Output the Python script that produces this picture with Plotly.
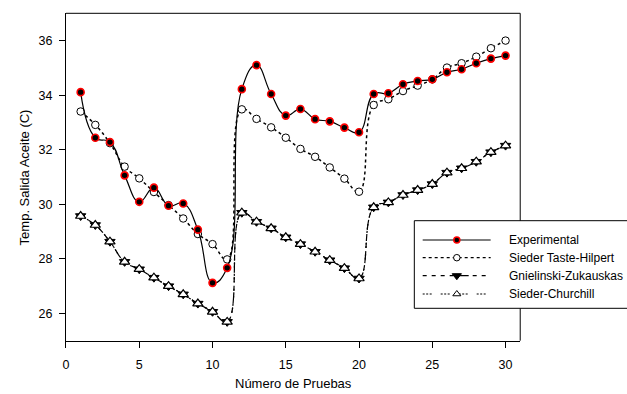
import plotly.graph_objects as go

W, H = 627, 394

pruebas = list(range(1, 31))
experimental = [34.11, 32.44, 32.28, 31.06, 30.09, 30.61, 29.95, 30.03, 29.07, 27.12,
                27.67, 34.22, 35.10, 34.04, 33.25, 33.49, 33.12, 33.04, 32.81, 32.64,
                34.04, 34.07, 34.40, 34.52, 34.58, 34.84, 34.95, 35.17, 35.34, 35.45]
taste_hilpert = [33.40, 32.91, 32.24, 31.38, 30.95, 30.45, 29.97, 29.48, 28.91, 28.54,
                 27.98, 33.48, 33.13, 32.82, 32.44, 32.03, 31.74, 31.35, 30.94, 30.46,
                 33.64, 33.85, 34.15, 34.35, 34.58, 35.01, 35.17, 35.41, 35.72, 36.00]
gnielinski = [29.57, 29.24, 28.63, 27.89, 27.62, 27.31, 27.00, 26.70, 26.36, 26.06,
              25.69, 29.69, 29.36, 29.12, 28.79, 28.54, 28.26, 27.95, 27.66, 27.28,
              29.89, 30.07, 30.34, 30.52, 30.74, 31.16, 31.32, 31.56, 31.91, 32.15]
churchill = [29.57, 29.24, 28.63, 27.89, 27.62, 27.31, 27.00, 26.70, 26.36, 26.06,
             25.69, 29.69, 29.36, 29.12, 28.79, 28.54, 28.26, 27.95, 27.66, 27.28,
             29.89, 30.07, 30.34, 30.52, 30.74, 31.16, 31.32, 31.56, 31.91, 32.15]

series_names = ["Experimental", "Sieder Taste-Hilpert", "Gnielinski-Zukauskas", "Sieder-Churchill"]
x_ticks = [0, 5, 10, 15, 20, 25, 30]
y_ticks = [26, 28, 30, 32, 34, 36]

FONT = "Liberation Sans, Arial, sans-serif"

# plot-area pixel box
PL, PR, PT, PB = 63.3, 519.7, 13.3, 340.7

def px(xp):
    return xp / W

def py(yp):
    return 1 - yp / H

dash_gz = "5px,4px,5px,4px,10px,3px"
dash_sc = "2px,1.5px,2px,1.5px,2px,6px"

fig = go.Figure()

fig.add_trace(go.Scatter(
    x=pruebas, y=gnielinski, mode="lines+markers", name=series_names[2],
    line=dict(color="black", width=1.2, shape="spline", smoothing=1.3, dash=dash_gz),
    marker=dict(symbol="triangle-down", size=9, color="black", line=dict(color="black", width=1)),
    showlegend=False))
fig.add_trace(go.Scatter(
    x=pruebas, y=churchill, mode="lines+markers", name=series_names[3],
    line=dict(color="black", width=1.2, shape="spline", smoothing=1.3, dash=dash_sc),
    marker=dict(symbol="triangle-up", size=9, color="white", line=dict(color="black", width=1.2)),
    showlegend=False))
fig.add_trace(go.Scatter(
    x=pruebas, y=taste_hilpert, mode="lines+markers", name=series_names[1],
    line=dict(color="black", width=1.5, shape="spline", smoothing=1.3, dash="dot"),
    marker=dict(symbol="circle", size=7.5, color="white", line=dict(color="black", width=1)),
    showlegend=False))
fig.add_trace(go.Scatter(
    x=pruebas, y=experimental, mode="lines+markers", name=series_names[0],
    line=dict(color="black", width=1.2, shape="spline", smoothing=1.3),
    marker=dict(symbol="circle", size=7, color="black", line=dict(color="red", width=1.6)),
    showlegend=False))

# ---- custom legend (pixel overlay axes x2/y2) ----
leg_rows = [240, 257.7, 275.7, 294]
lx0, lx1, lmk, ltxt = 421.7, 490, 456, 506.7
leg_styles = [
    dict(line=dict(color="black", width=1.2),
         marker=dict(symbol="circle", size=6, color="black", line=dict(color="red", width=1.5))),
    dict(line=dict(color="black", width=1.2, dash="dot"),
         marker=dict(symbol="circle", size=6.5, color="white", line=dict(color="black", width=1))),
    dict(line=dict(color="black", width=1.2, dash="4px,5px,4px,5px,4px,5px,4px,5px,10px,4px"),
         marker=dict(symbol="triangle-down", size=8, color="black", line=dict(color="black", width=1))),
    dict(line=dict(color="black", width=1.2, dash="2px,1.5px,2px,1.5px,2px,9px"),
         marker=dict(symbol="triangle-up", size=7, color="white", line=dict(color="black", width=1))),
]
for yr, st in zip(leg_rows, leg_styles):
    fig.add_trace(go.Scatter(x=[lx0, lx1], y=[yr, yr], mode="lines", line=st["line"],
                             xaxis="x2", yaxis="y2", showlegend=False, hoverinfo="skip"))
    fig.add_trace(go.Scatter(x=[lmk], y=[yr], mode="markers", marker=st["marker"],
                             xaxis="x2", yaxis="y2", showlegend=False, hoverinfo="skip"))

annotations = []
for yr, name in zip(leg_rows, series_names):
    annotations.append(dict(x=px(ltxt), y=py(yr), xref="paper", yref="paper", text=name,
                            showarrow=False, xanchor="left", yanchor="middle",
                            font=dict(family=FONT, size=12, color="black")))
annotations.append(dict(x=px((PL + PR) / 2), y=py(383), xref="paper", yref="paper",
                        text="Número de Pruebas", showarrow=False, xanchor="center", yanchor="middle",
                        font=dict(family=FONT, size=13, color="black")))
annotations.append(dict(x=px(21.5), y=py((PT + PB) / 2), xref="paper", yref="paper",
                        text="Temp. Salida Aceite (C)", showarrow=False, textangle=-90,
                        xanchor="center", yanchor="middle",
                        font=dict(family=FONT, size=13, color="black")))

shapes = [
    # legend box
    dict(type="rect", xref="paper", yref="paper", x0=px(413.3), x1=px(632), y0=py(308.3), y1=py(220.7),
         line=dict(color="black", width=1), fillcolor="white", layer="below"),
    # top frame
    dict(type="line", xref="paper", yref="paper", x0=px(PL), x1=px(PR), y0=py(PT), y1=py(PT),
         line=dict(color="black", width=1)),
    # right frame, split around the legend
    dict(type="line", xref="paper", yref="paper", x0=px(PR), x1=px(PR), y0=py(PT), y1=py(220.7),
         line=dict(color="black", width=1)),
    dict(type="line", xref="paper", yref="paper", x0=px(PR), x1=px(PR), y0=py(308.3), y1=py(PB),
         line=dict(color="black", width=1)),
]

fig.update_layout(
    width=W, height=H, margin=dict(l=0, r=0, t=0, b=0),
    paper_bgcolor="white", plot_bgcolor="rgba(0,0,0,0)",
    font=dict(family=FONT, size=12, color="black"),
    showlegend=False,
    annotations=annotations, shapes=shapes,
    xaxis=dict(domain=[px(PL), px(PR)], range=[0, 31], tickvals=x_ticks, ticks="outside",
               ticklen=6, tickwidth=1, tickcolor="black", showline=True, linecolor="black",
               linewidth=1, showgrid=False, zeroline=False, mirror=False,
               tickfont=dict(family=FONT, size=12.5, color="black"), ticklabelstandoff=6),
    yaxis=dict(domain=[py(PB), py(PT)], range=[25, 37], tickvals=y_ticks, ticks="outside",
               ticklen=6, tickwidth=1, tickcolor="black", showline=True, linecolor="black",
               linewidth=1, showgrid=False, zeroline=False, mirror=False,
               tickfont=dict(family=FONT, size=12.5, color="black"), ticklabelstandoff=4),
    xaxis2=dict(domain=[0, 1], range=[0, W], visible=False, anchor="y2", fixedrange=True),
    yaxis2=dict(domain=[0, 1], range=[H, 0], visible=False, anchor="x2", fixedrange=True),
)

fig.write_html("out.html")
